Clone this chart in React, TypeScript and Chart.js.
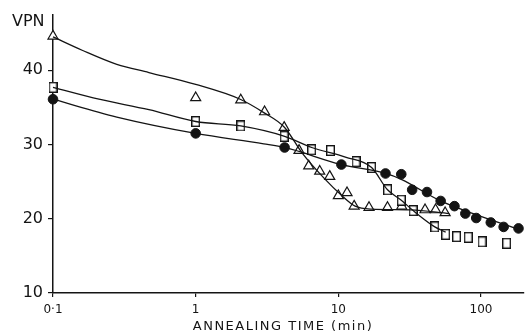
import React, { useEffect, useRef } from "react";
import { Chart, registerables } from "chart.js";

Chart.register(...registerables);

// Axis ticks
const xTicks = [0.1, 1, 10, 100];
const xTickLabels = ["0·1", "1", "10", "100"];
const yTicks = [10, 20, 30, 40];

// Triangles (open)
const triTime = [0.1, 1, 2.07, 3.04, 4.17, 5.3, 6.2, 7.4, 8.7, 10, 11.5, 12.9, 16.4, 22.1, 27.8, 40.5, 48, 56];
const triVPN = [44.6, 36.3, 36.0, 34.4, 32.3, 29.2, 27.1, 26.4, 25.7, 23.1, 23.5, 21.7, 21.5, 21.5, 21.7, 21.2, 21.2, 20.8];
const triFitTime = [0.1, 0.16, 0.28, 0.47, 1, 2.05, 3.0, 4.2, 5.6, 7.9, 10.6, 13.1, 17.1, 32, 60];
const triFitVPN = [44.5, 42.7, 40.8, 39.7, 38.1, 36.1, 34.3, 32.3, 28.8, 25.5, 23.1, 21.7, 21.3, 21.2, 20.7];

// Squares (open)
const sqTime = [0.1, 1, 2.07, 4.17, 6.5, 8.8, 13.3, 17.1, 22.1, 27.6, 33.4, 47.4, 56.5, 67.3, 81.3, 101.6, 151];
const sqVPN = [37.7, 33.1, 32.5, 31.1, 29.3, 29.2, 27.7, 26.9, 23.9, 22.5, 21.1, 18.9, 17.9, 17.6, 17.5, 16.9, 16.7];
const sqFitTime = [0.1, 0.21, 0.47, 1, 2.07, 4.2, 6.5, 11.2, 17.1, 22.1, 27.6, 33.4, 47.4, 56.5];
const sqFitVPN = [37.7, 36.1, 34.7, 33.1, 32.5, 31.1, 29.6, 28.3, 26.9, 23.9, 22.5, 21.1, 18.9, 18.2];

// Circles (filled)
const dotTime = [0.1, 1, 4.2, 10.5, 21.4, 27.6, 32.9, 41.8, 52.1, 65.1, 77.6, 92.5, 117, 144, 183];
const dotVPN = [36.1, 31.5, 29.6, 27.3, 26.1, 26.0, 23.9, 23.6, 22.4, 21.7, 20.7, 20.1, 19.5, 18.9, 18.7];
const dotFitTime = [0.1, 0.28, 1, 3.0, 4.2, 10.5, 21.4, 27.6, 52, 88, 183];
const dotFitVPN = [36.1, 33.7, 31.5, 30.1, 29.6, 27.3, 26.1, 25.3, 22.4, 20.7, 18.6];

const ink = "#141414";
const FONT = "'DejaVu Sans', Verdana, sans-serif";

const pts = (xs: number[], ys: number[]) => xs.map((x, i) => ({ x, y: ys[i] }));

function makeRect(w: number, h: number) {
  const c = document.createElement("canvas");
  c.width = w;
  c.height = h;
  const ctx = c.getContext("2d")!;
  ctx.fillStyle = "#fff";
  ctx.fillRect(0, 0, w, h);
  ctx.strokeStyle = ink;
  ctx.lineWidth = 1.4;
  ctx.strokeRect(0.7, 0.7, w - 1.4, h - 1.4);
  return c;
}

const titlePlugin = {
  id: "titles",
  afterDraw(chart: any) {
    const ctx = chart.ctx;
    ctx.save();
    ctx.fillStyle = ink;
    ctx.font = `16px ${FONT}`;
    ctx.textAlign = "left";
    ctx.textBaseline = "middle";
    ctx.fillText("VPN", 12, 22);
    ctx.font = `13px ${FONT}`;
    (ctx as any).letterSpacing = "1.5px";
    ctx.textAlign = "center";
    ctx.fillText("ANNEALING TIME (min)", 283, 327);
    ctx.restore();
  },
};

export default function App() {
  const ref = useRef<HTMLCanvasElement>(null);

  useEffect(() => {
    if (!ref.current) return;
    const rectImg = makeRect(9, 11);
    const lineBase = {
      type: "line" as const,
      showLine: true,
      borderColor: ink,
      borderWidth: 1.3,
      pointRadius: 0,
      cubicInterpolationMode: "monotone" as const,
      fill: false,
      clip: false as any,
    };
    const chart = new Chart(ref.current, {
      type: "scatter",
      data: {
        datasets: [
          { ...lineBase, data: pts(triFitTime, triFitVPN) },
          { ...lineBase, data: pts(sqFitTime, sqFitVPN) },
          { ...lineBase, data: pts(dotFitTime, dotFitVPN) },
          {
            data: pts(dotTime, dotVPN),
            pointStyle: "circle",
            pointRadius: 4.8,
            backgroundColor: ink,
            borderColor: ink,
            borderWidth: 1,
            clip: false as any,
          },
          {
            data: pts(sqTime, sqVPN),
            pointStyle: rectImg as any,
            pointRadius: 5,
            clip: false as any,
          },
          {
            data: pts(triTime, triVPN),
            pointStyle: "triangle",
            pointRadius: 5.8,
            backgroundColor: "#fff",
            borderColor: ink,
            borderWidth: 1.2,
            clip: false as any,
          },
        ],
      },
      options: {
        animation: false,
        responsive: false,
        devicePixelRatio: 1,
        layout: { padding: { top: 12, left: 0, right: 0, bottom: 0 } },
        plugins: {
          legend: { display: false },
          tooltip: { enabled: false },
        },
        scales: {
          x: {
            type: "logarithmic",
            min: 0.1,
            max: 200,
            afterBuildTicks: (scale: any) => {
              scale.ticks = xTicks.map((v) => ({ value: v }));
            },
            afterFit: (scale: any) => {
              scale.height = 41;
            },
            ticks: {
              autoSkip: false,
              maxRotation: 0,
              padding: 6,
              color: ink,
              font: { family: FONT, size: 12 },
              callback: (value: any) => {
                const i = xTicks.findIndex((t) => Math.abs(t - Number(value)) < 1e-9);
                return i >= 0 ? xTickLabels[i] : "";
              },
            },
            grid: {
              display: true,
              drawOnChartArea: false,
              drawTicks: true,
              tickLength: 4,
              color: ink,
              lineWidth: 1.2,
            },
            border: { display: true, color: ink, width: 1.5 },
          },
          y: {
            type: "linear",
            min: 10,
            max: 47.5,
            afterBuildTicks: (scale: any) => {
              scale.ticks = yTicks.map((v) => ({ value: v }));
            },
            afterFit: (scale: any) => {
              scale.width = 53;
            },
            ticks: {
              autoSkip: false,
              padding: 5,
              color: ink,
              font: { family: FONT, size: 16 },
            },
            grid: {
              display: true,
              drawOnChartArea: false,
              drawTicks: true,
              tickLength: 5,
              color: ink,
              lineWidth: 1.2,
            },
            border: { display: true, color: ink, width: 1.5 },
          },
        },
      },
      plugins: [titlePlugin],
    });
    return () => chart.destroy();
  }, []);

  return (
    <div style={{ position: "absolute", left: 0, top: 0, width: 531, height: 334, background: "#fff" }}>
      <canvas ref={ref} width={531} height={334} />
    </div>
  );
}
